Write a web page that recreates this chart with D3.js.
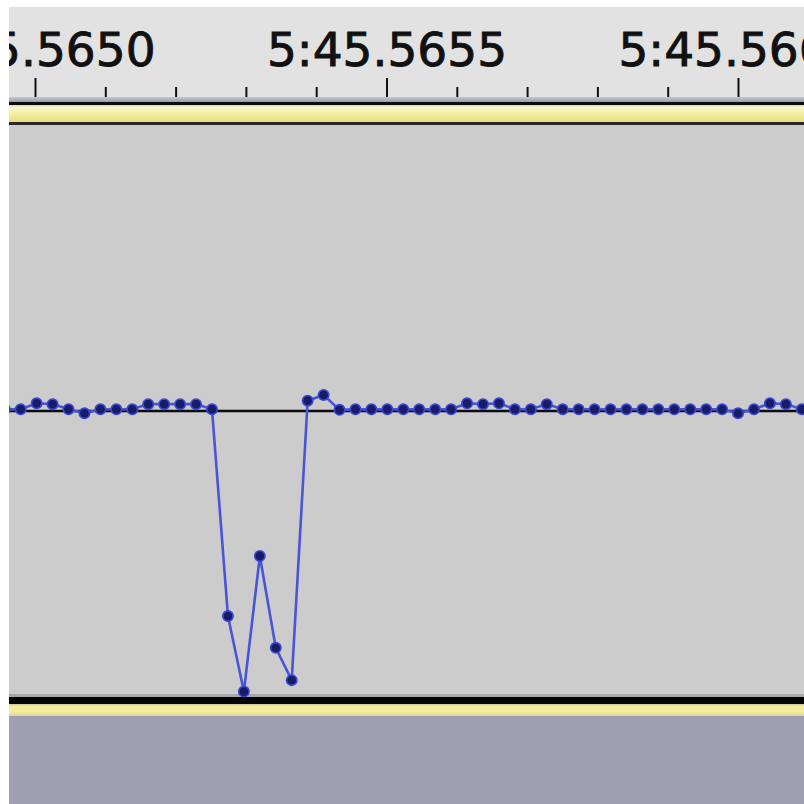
<html>
    <head>
        <meta charset="utf-8">
        <style>
            body {
                    margin: 0;
                    background-color: #ffffff;
            }
            svg {
                    display: block;
            }
            .ruler text {
                font-family: "DejaVu Sans", sans-serif;
                font-size: 47px;
                fill: #111;
                stroke: #111;
                stroke-width: 0.9px;
            }
            .ruler line {
                stroke: #111;
                stroke-width: 2px;
            }
            .wave {
                fill: none;
                stroke: #4a55d8;
                stroke-width: 2.6px;
            }
        </style>
    </head>

    <body>
        <script src="https://d3js.org/d3.v7.min.js"></script>
        <script>
            // sample data (one sample per 1/44100 s), amplitude -1..1
            var sampleRate = 44100;
            var firstSampleTime = 345.564957;
            var samples = [
                0.006, 0.006, 0.027, 0.024, 0.006, -0.008, 0.006, 0.006, 0.006, 0.024,
                0.024, 0.024, 0.024, 0.006, -0.717, -0.981, -0.507, -0.828, -0.941, 0.036,
                0.056, 0.004, 0.006, 0.006, 0.006, 0.006, 0.006, 0.006, 0.006, 0.027,
                0.024, 0.027, 0.006, 0.006, 0.024, 0.006, 0.006, 0.006, 0.006, 0.006,
                0.006, 0.006, 0.006, 0.006, 0.006, 0.006, -0.008, 0.006, 0.027, 0.024,
                0.006, 0.006
            ];

            // ruler ticks (seconds)
            var majorTicks = [345.5650, 345.5655, 345.5660];
            var minorTicks = [345.5651, 345.5652, 345.5653, 345.5654,
                              345.5656, 345.5657, 345.5658, 345.5659, 345.5661];

            var W = 804, H = 804;
            var leftX = 9, topY = 7;
            var plotTop = 125, plotBottom = 697;

            var svg = d3.select("body").append("svg")
                .attr("width", W)
                .attr("height", H);

            var defs = svg.append("defs");

            function gradient(id, stops) {
                var g = defs.append("linearGradient")
                    .attr("id", id)
                    .attr("x1", 0).attr("y1", 0).attr("x2", 0).attr("y2", 1);
                stops.forEach(function(s) {
                    g.append("stop").attr("offset", s[0]).attr("stop-color", s[1]);
                });
            }
            gradient("topYellow", [[0, "#d8d8c8"], [0.15, "#f8f6c8"], [0.6, "#f2ec98"], [1, "#e6de80"]]);
            gradient("botYellow", [[0, "#c8c8a0"], [0.2, "#f4ee98"], [0.7, "#f0ea9c"], [1, "#d8d4b0"]]);
            gradient("rulerEdge", [[0, "#c8c8d0"], [1, "#9a9aaa"]]);

            var soft = defs.append("filter").attr("id", "soft");
            soft.append("feGaussianBlur").attr("stdDeviation", 0.6);

            // scales
            var x = d3.scaleLinear()
                    .domain([345.565, 345.566])
                    .range([35, 738]);

            var y = d3.scaleLinear()
                    .domain([-1, 1])
                    .range([plotBottom, plotTop]);

            // backgrounds
            svg.append("rect").attr("x", leftX).attr("y", topY)
                .attr("width", W - leftX).attr("height", 97 - topY).attr("fill", "#e2e2e2");
            svg.append("rect").attr("x", leftX).attr("y", 97)
                .attr("width", W - leftX).attr("height", 5).attr("fill", "url(#rulerEdge)");
            svg.append("rect").attr("x", leftX).attr("y", 102)
                .attr("width", W - leftX).attr("height", 3).attr("fill", "#0c0c0c");
            svg.append("rect").attr("x", leftX).attr("y", 105)
                .attr("width", W - leftX).attr("height", 17).attr("fill", "url(#topYellow)");
            svg.append("rect").attr("x", leftX).attr("y", 122)
                .attr("width", W - leftX).attr("height", 3).attr("fill", "#2a2a2a");

            svg.append("rect").attr("x", leftX).attr("y", plotTop)
                .attr("width", W - leftX).attr("height", plotBottom - plotTop).attr("fill", "#cccccc");
            svg.append("rect").attr("x", leftX).attr("y", plotBottom - 3)
                .attr("width", W - leftX).attr("height", 3).attr("fill", "#a8a8a8");

            svg.append("rect").attr("x", leftX).attr("y", plotBottom)
                .attr("width", W - leftX).attr("height", 7).attr("fill", "#050505");
            svg.append("rect").attr("x", leftX).attr("y", 704)
                .attr("width", W - leftX).attr("height", 12).attr("fill", "url(#botYellow)");
            svg.append("rect").attr("x", leftX).attr("y", 716)
                .attr("width", W - leftX).attr("height", H - 716).attr("fill", "#9f9eb2");

            // ruler (time axis on top)
            var fmt = function(t) {
                var m = Math.floor(t / 60);
                return m + ":" + d3.format("07.4f")(t - m * 60);
            };

            defs.append("clipPath").attr("id", "rulerClip")
                .append("rect").attr("x", leftX).attr("y", topY)
                .attr("width", W - leftX).attr("height", 97 - topY);

            var ruler = svg.append("g")
                .attr("clip-path", "url(#rulerClip)");

            ruler.append("g")
                .attr("class", "ruler")
                .attr("transform", "translate(0,98)")
                .call(d3.axisTop(x).tickValues(minorTicks).tickSize(11).tickFormat(""))
                .call(function(g) { g.select(".domain").remove(); });

            ruler.append("g")
                .attr("class", "ruler")
                .attr("transform", "translate(0,98)")
                .call(d3.axisTop(x).tickValues(majorTicks).tickSize(20).tickPadding(12).tickFormat(fmt))
                .call(function(g) { g.select(".domain").remove(); })
                .selectAll("text").attr("fill", "#111");

            // waveform
            var clip = defs.append("clipPath").attr("id", "plotClip");
            clip.append("rect").attr("x", leftX).attr("y", plotTop)
                .attr("width", W - leftX).attr("height", plotBottom - plotTop);

            var wave = svg.append("g")
                .attr("clip-path", "url(#plotClip)")
                .append("g")
                .attr("filter", "url(#soft)");

            // zero line
            wave.append("line")
                .attr("x1", leftX).attr("x2", W)
                .attr("y1", y(0)).attr("y2", y(0))
                .attr("stroke", "#111")
                .attr("stroke-width", 2.5);

            var tOf = function(d, i) { return firstSampleTime + i / sampleRate; };

            var line = d3.line()
                .x(function(d, i) { return x(tOf(d, i)); })
                .y(function(d) { return y(d); });

            wave.append("path")
                .datum(samples)
                .attr("class", "wave")
                .attr("d", line);

            wave.selectAll("circle")
                .data(samples)
                .enter().append("circle")
                .attr("cx", function(d, i) { return x(tOf(d, i)); })
                .attr("cy", function(d) { return y(d); })
                .attr("r", 5.2)
                .attr("fill", "#161d66")
                .attr("stroke", "#3b47d4")
                .attr("stroke-width", 1.6);
        </script>
    </body>
</html>
